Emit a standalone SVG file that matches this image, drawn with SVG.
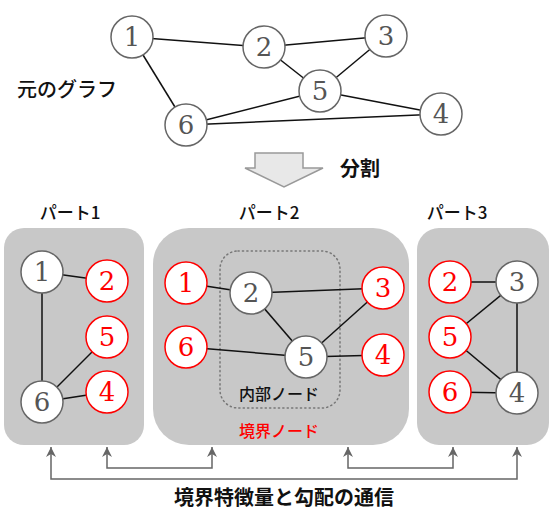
<svg xmlns="http://www.w3.org/2000/svg" width="551" height="513" viewBox="0 0 551 513">
<defs>
<style>
.bg{fill:#ffffff}
.edge{stroke:#111;stroke-width:1.5;fill:none}
.n{fill:#fff;stroke:#666;stroke-width:1.5}
.b{fill:#fff;stroke:#ff0000;stroke-width:1.5}
.nt{font-family:'DejaVu Serif',serif;font-size:26px;fill:#555;text-anchor:middle}
.bt{font-family:'DejaVu Serif',serif;font-size:26px;fill:#ff0000;text-anchor:middle}
.panel{fill:#c8c8c8}
.jp{font-family:'Noto Sans CJK JP',sans-serif;fill:#111;text-anchor:middle}
.conn{stroke:#666;stroke-width:1.5;fill:none}
</style>
<marker id="ah" markerUnits="userSpaceOnUse" markerWidth="12" markerHeight="10" refX="10" refY="5" orient="auto-start-reverse" viewBox="0 0 12 10">
<path d="M0,0 L10,5 L0,10 L3,5 z" fill="#666"/>
</marker>
</defs>
<rect class="bg" x="0" y="0" width="551" height="513"/>

<!-- top graph -->
<g id="top-edges">
<line class="edge" x1="132" y1="37" x2="264" y2="47"/>
<line class="edge" x1="132" y1="37" x2="186" y2="125"/>
<line class="edge" x1="264" y1="47" x2="386" y2="36"/>
<line class="edge" x1="264" y1="47" x2="320" y2="91"/>
<line class="edge" x1="386" y1="36" x2="320" y2="91"/>
<line class="edge" x1="320" y1="91" x2="186" y2="125"/>
<line class="edge" x1="320" y1="91" x2="441" y2="114"/>
<line class="edge" x1="186" y1="125" x2="441" y2="114"/>
</g>
<g id="g-node1"><circle class="n" cx="132" cy="37" r="21"/><text class="nt" x="132" y="46">1</text></g>
<g id="g-node2"><circle class="n" cx="264" cy="47" r="21"/><text class="nt" x="264" y="56">2</text></g>
<g id="g-node3"><circle class="n" cx="386" cy="36" r="21"/><text class="nt" x="386" y="45">3</text></g>
<g id="g-node5"><circle class="n" cx="320" cy="91" r="21"/><text class="nt" x="320" y="100">5</text></g>
<g id="g-node4"><circle class="n" cx="441" cy="114" r="21"/><text class="nt" x="441" y="123">4</text></g>
<g id="g-node6"><circle class="n" cx="186" cy="125" r="21"/><text class="nt" x="186" y="134">6</text></g>
<g id="label-orig"><text class="jp" x="67" y="97" font-size="20" font-weight="500">元のグラフ</text></g>

<!-- split arrow -->
<g id="split-arrow">
<path d="M255,153 H303 V168 H323 L284,187 L245,168 H255 Z" fill="#e8e8e8" stroke="#999" stroke-width="1.5"/>
<text class="jp" x="360" y="176" font-size="20" font-weight="bold">分割</text>
</g>

<!-- part labels -->
<g id="part-labels">
<text class="jp" x="70" y="219" font-size="17" font-weight="500">パート1</text>
<text class="jp" x="269" y="219" font-size="17" font-weight="500">パート2</text>
<text class="jp" x="457" y="219" font-size="17" font-weight="500">パート3</text>
</g>

<!-- panels -->
<g id="panel1">
<rect class="panel" x="4" y="228" width="140" height="217" rx="20" ry="20"/>
<line class="edge" x1="42" y1="272" x2="107" y2="281"/>
<line class="edge" x1="42" y1="272" x2="42" y2="402"/>
<line class="edge" x1="42" y1="402" x2="107" y2="337"/>
<line class="edge" x1="42" y1="402" x2="107" y2="392"/>
<g id="p1-node1"><circle class="n" cx="42" cy="272" r="21"/><text class="nt" x="42" y="281">1</text></g>
<g id="p1-node2"><circle class="b" cx="107" cy="281" r="21"/><text class="bt" x="107" y="290">2</text></g>
<g id="p1-node5"><circle class="b" cx="107" cy="337" r="21"/><text class="bt" x="107" y="346">5</text></g>
<g id="p1-node4"><circle class="b" cx="107" cy="392" r="21"/><text class="bt" x="107" y="401">4</text></g>
<g id="p1-node6"><circle class="n" cx="42" cy="402" r="21"/><text class="nt" x="42" y="411">6</text></g>
</g>

<g id="panel2">
<rect class="panel" x="153" y="228" width="256" height="217" rx="36" ry="36"/>
<rect x="220" y="251" width="120" height="157" rx="18" ry="18" fill="none" stroke="#777" stroke-width="1.5" stroke-dasharray="1.2,3.2" stroke-linecap="round"/>
<line class="edge" x1="186" y1="283" x2="251" y2="293"/>
<line class="edge" x1="251" y1="293" x2="383" y2="288"/>
<line class="edge" x1="251" y1="293" x2="306" y2="357"/>
<line class="edge" x1="186" y1="347" x2="306" y2="357"/>
<line class="edge" x1="306" y1="357" x2="383" y2="288"/>
<line class="edge" x1="306" y1="357" x2="383" y2="355"/>
<g id="p2-node1"><circle class="b" cx="186" cy="283" r="21"/><text class="bt" x="186" y="292">1</text></g>
<g id="p2-node6"><circle class="b" cx="186" cy="347" r="21"/><text class="bt" x="186" y="356">6</text></g>
<g id="p2-node2"><circle class="n" cx="251" cy="293" r="21"/><text class="nt" x="251" y="302">2</text></g>
<g id="p2-node3"><circle class="b" cx="383" cy="288" r="21"/><text class="bt" x="383" y="297">3</text></g>
<g id="p2-node5"><circle class="n" cx="306" cy="357" r="21"/><text class="nt" x="306" y="366">5</text></g>
<g id="p2-node4"><circle class="b" cx="383" cy="355" r="21"/><text class="bt" x="383" y="364">4</text></g>
<text class="jp" x="279" y="400" font-size="16" font-weight="500">内部ノード</text>
<text class="jp" x="279" y="437" font-size="16" font-weight="500" style="fill:#ff0000">境界ノード</text>
</g>

<g id="panel3">
<rect class="panel" x="417" y="228" width="132" height="217" rx="22" ry="22"/>
<line class="edge" x1="450" y1="282" x2="517" y2="282"/>
<line class="edge" x1="517" y1="282" x2="450" y2="337"/>
<line class="edge" x1="517" y1="282" x2="517" y2="393"/>
<line class="edge" x1="450" y1="337" x2="517" y2="393"/>
<line class="edge" x1="450" y1="392" x2="517" y2="393"/>
<g id="p3-node2"><circle class="b" cx="450" cy="282" r="21"/><text class="bt" x="450" y="291">2</text></g>
<g id="p3-node5"><circle class="b" cx="450" cy="337" r="21"/><text class="bt" x="450" y="346">5</text></g>
<g id="p3-node6"><circle class="b" cx="450" cy="392" r="21"/><text class="bt" x="450" y="401">6</text></g>
<g id="p3-node3"><circle class="n" cx="517" cy="282" r="21"/><text class="nt" x="517" y="291">3</text></g>
<g id="p3-node4"><circle class="n" cx="517" cy="393" r="21"/><text class="nt" x="517" y="402">4</text></g>
</g>

<!-- communication connectors -->
<g id="connectors">
<path class="conn" d="M51,447 V479 H517 V447" marker-start="url(#ah)" marker-end="url(#ah)"/>
<path class="conn" d="M107,447 V468 H212 V447" marker-start="url(#ah)" marker-end="url(#ah)"/>
<path class="conn" d="M348,447 V468 H453 V447" marker-start="url(#ah)" marker-end="url(#ah)"/>
</g>
<g id="label-comm"><text class="jp" x="284" y="505" font-size="20" font-weight="bold">境界特徴量と勾配の通信</text></g>
</svg>
